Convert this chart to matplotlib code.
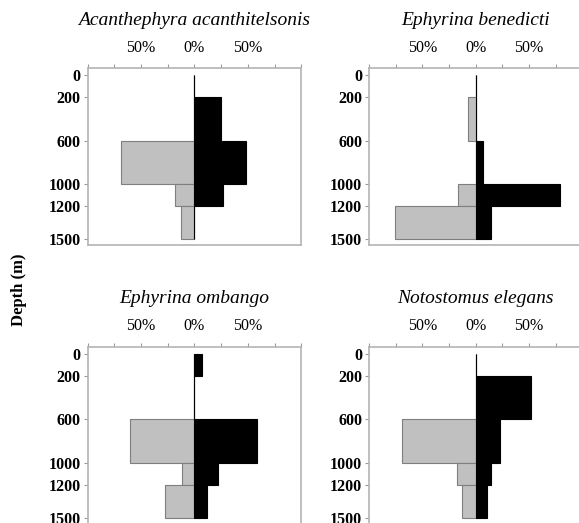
import matplotlib
matplotlib.use("Agg")
import matplotlib.pyplot as plt

# depth bins (m) and percentage of catch per bin
depth_edges = [0, 200, 600, 1000, 1200, 1500]
species = ["Acanthephyra acanthitelsonis", "Ephyrina benedicti",
           "Ephyrina ombango", "Notostomus elegans"]
day = [
    [0, 0, 69, 18, 13],
    [0, 7, 0, 17, 76],
    [0, 0, 60, 12, 28],
    [0, 0, 69, 18, 13],
]
night = [
    [0, 25, 48, 27, 0],
    [0, 0, 7, 79, 14],
    [7, 0, 59, 22, 12],
    [0, 52, 23, 14, 11],
]
pct_ticks = [-100, -75, -50, -25, 0, 25, 50, 75, 100]
pct_labels = ["", "", "50%", "", "0%", "", "50%", "", ""]

plt.rcParams["font.family"] = ["Liberation Serif", "DejaVu Serif"]

fig = plt.figure(figsize=(5.79, 5.23), dpi=100)
W, H = 579, 523
# axes boxes in pixels: left, top
boxes = [(87.7, 68), (369, 68), (87.7, 346.5), (369, 346.5)]
ax_w, ax_h = 213.5, 177

bottoms = depth_edges[:-1]
heights = [b - a for a, b in zip(depth_edges[:-1], depth_edges[1:])]

for i, name in enumerate(species):
    left, top = boxes[i]
    ax = fig.add_axes([left / W, 1 - (top + ax_h) / H, ax_w / W, ax_h / H])
    ax.barh(bottoms, [-v for v in day[i]], height=heights, align="edge",
            color="#c0c0c0", edgecolor="#7f7f7f", linewidth=0.8, zorder=2)
    ax.barh(bottoms, night[i], height=heights, align="edge",
            color="black", edgecolor="black", linewidth=0.8, zorder=3)
    ax.vlines(0, depth_edges[0], depth_edges[-1], color="#8c8c8c", lw=0.8, zorder=1)

    ax.set_xlim(-100, 100)
    ax.set_ylim(1555, -68)
    ax.set_xticks(pct_ticks)
    ax.set_xticklabels(pct_labels, fontsize=11.5)
    ax.set_yticks(depth_edges)
    ax.set_yticklabels([str(d) for d in depth_edges], fontsize=11.5, fontweight="bold")
    ax.xaxis.tick_top()
    ax.tick_params(axis="both", length=3, width=0.8, color="#9a9a9a", pad=2)
    ax.tick_params(axis="x", pad=6)
    for s in ax.spines.values():
        s.set_color("#b4b4b4")
        s.set_linewidth(1.2)
    ax.set_title(name, fontsize=14, style="italic", pad=31)

fig.text(19 / W, 1 - 290 / H, "Depth (m)", rotation=90, ha="center", va="center",
         fontsize=12, fontweight="bold")

fig.savefig("out.png", dpi=100)
